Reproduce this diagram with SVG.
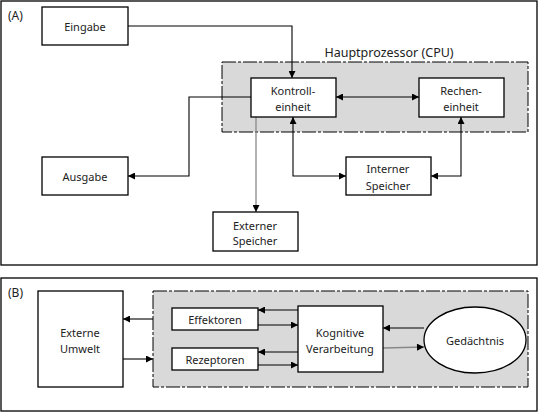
<svg xmlns="http://www.w3.org/2000/svg" width="539" height="412" viewBox="0 0 539 412">
<defs>
<marker id="ah" viewBox="0 0 10 10" refX="10" refY="5" markerWidth="8" markerHeight="7" markerUnits="userSpaceOnUse" orient="auto-start-reverse"><path d="M0,0 L10,5 L0,10 z" fill="#000"/></marker>
<style>
text{font-family:"Noto Sans","Liberation Sans",sans-serif;font-size:11px;fill:#222;text-anchor:middle;dominant-baseline:central}
.box{fill:#fff;stroke:#000;stroke-width:1.3}
.panel{fill:#fff;stroke:#000;stroke-width:1.3}
.grp{fill:#d9d9d9;stroke:#000;stroke-width:1;stroke-dasharray:14 2 3 2}
.c{fill:none;stroke:#000;stroke-width:1.1}
.g{fill:none;stroke:#888;stroke-width:1.3}
</style>
</defs>
<rect width="539" height="412" fill="#fff"/>
<g id="panelA">
<rect class="panel" x="1" y="1" width="536" height="264"/>
<text x="8" y="15" style="text-anchor:start;font-size:12px">(A)</text>
</g>
<g id="cpu">
<rect class="grp" x="222" y="62" width="306" height="70"/>
<text x="389" y="52" style="font-size:12.5px">Hauptprozessor (CPU)</text>
</g>
<g id="panelB">
<rect class="panel" x="1" y="278" width="536" height="133"/>
<text x="8" y="292" style="text-anchor:start;font-size:12px">(B)</text>
</g>
<g id="kog">
<rect class="grp" x="153" y="291" width="375" height="96"/>
</g>
<g id="connectors">
<path class="c" d="M128,26 H292 V78" marker-end="url(#ah)"/>
<path class="c" d="M336,97 H419" marker-start="url(#ah)" marker-end="url(#ah)"/>
<path class="c" d="M293,117 V176 H346" marker-start="url(#ah)" marker-end="url(#ah)"/>
<path class="c" d="M461,117 V176 H431" marker-start="url(#ah)" marker-end="url(#ah)"/>
<path class="c" d="M251,97 H189 V176 H128" marker-end="url(#ah)"/>
<path class="g" d="M256,117 V212" marker-end="url(#ah)"/>
<path class="c" d="M153,319 H123" marker-end="url(#ah)"/>
<path class="c" d="M123,359 H153" marker-end="url(#ah)"/>
<path class="c" d="M298,310 H258" marker-end="url(#ah)"/>
<path class="c" d="M258,325 H298" marker-end="url(#ah)"/>
<path class="c" d="M298,352 H258" marker-end="url(#ah)"/>
<path class="c" d="M258,365 H298" marker-end="url(#ah)"/>
<path class="c" d="M424,328 H383" marker-end="url(#ah)"/>
<path class="g" d="M383,348 L424,347" marker-end="url(#ah)"/>
</g>
<g id="eingabe"><rect class="box" x="42" y="7" width="86" height="38"/><text x="85" y="26">Eingabe</text></g>
<g id="kontrolleinheit"><rect class="box" x="251" y="78" width="85" height="39"/><text x="293" y="90">Kontroll-</text><text x="293" y="106">einheit</text></g>
<g id="recheneinheit"><rect class="box" x="419" y="78" width="85" height="39"/><text x="461" y="90">Rechen-</text><text x="461" y="106">einheit</text></g>
<g id="interner"><rect class="box" x="346" y="157" width="85" height="38"/><text x="388" y="168">Interner</text><text x="388" y="185">Speicher</text></g>
<g id="ausgabe"><rect class="box" x="42" y="157" width="86" height="38"/><text x="85" y="176">Ausgabe</text></g>
<g id="externer"><rect class="box" x="213" y="212" width="85" height="39"/><text x="255" y="225">Externer</text><text x="255" y="240">Speicher</text></g>
<g id="umwelt"><rect class="box" x="38" y="291" width="85" height="96"/><text x="80" y="332">Externe</text><text x="80" y="348">Umwelt</text></g>
<g id="effektoren"><rect class="box" x="172" y="308" width="86" height="22"/><text x="215" y="319">Effektoren</text></g>
<g id="rezeptoren"><rect class="box" x="172" y="348" width="86" height="22"/><text x="215" y="359">Rezeptoren</text></g>
<g id="kognitive"><rect class="box" x="298" y="306" width="85" height="66"/><text x="340" y="332">Kognitive</text><text x="340" y="348">Verarbeitung</text></g>
<g id="gedaechtnis"><ellipse class="box" cx="475" cy="340" rx="51" ry="33"/><text x="475" y="340">Gedächtnis</text></g>
</svg>
